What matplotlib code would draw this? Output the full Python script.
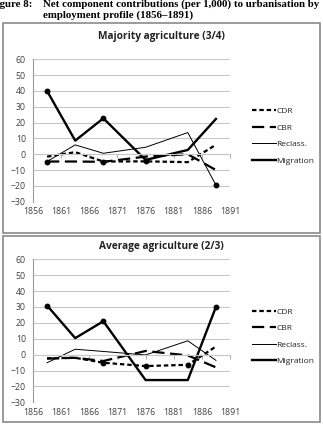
import matplotlib

matplotlib.use("Agg")
import matplotlib.pyplot as plt
from matplotlib.patches import Rectangle

# period midpoints (x positions of the points)
years = [1858.5, 1863.5, 1868.5, 1876, 1883.5, 1888.5]
xticks = [1856, 1861, 1866, 1871, 1876, 1881, 1886, 1891]

# panel 1: majority agriculture (3/4)
maj_cdr = [-1.5, 1.3, -4.6, -4.5, -5, 6]
maj_cbr = [-4.6, -4.6, -4.8, -1.5, 0, -10]
maj_recl = [-4.6, 5.9, 0.6, 4.4, 13.7, -19.5]
maj_mig = [40, 8.6, 22.7, -3.6, 2.7, 22.3]
maj_marks = {"cdr": [3], "cbr": [0, 2], "recl": [5], "mig": [0, 2]}

# panel 2: average agriculture (2/3)
avg_cdr = [-2.3, -2, -5.1, -7.2, -6.4, 5.1]
avg_cbr = [-2.5, -2, -4, 2.3, -0.5, -8]
avg_recl = [-5.1, 3.4, 2, -0.2, 8.7, -3.6]
avg_mig = [30.9, 10.4, 21, -16, -16, 30]
avg_marks = {"cdr": [2, 3, 4], "cbr": [], "recl": [], "mig": [0, 2, 5]}

W, H = 323, 425
fig = plt.figure(figsize=(W / 100, H / 100), dpi=100)
GREY = "#404040"


def fx(px):
    return px / W


def fy(py):
    return 1 - py / H


TSZ = 7.85
fig.text(fx(-10), fy(4.5), "Figure 8:", fontsize=TSZ, fontweight="bold",
         family="Liberation Serif", va="center", ha="left")
fig.text(fx(43), fy(4.5), "Net component contributions (per 1,000) to urbanisation by",
         fontsize=TSZ, fontweight="bold", family="Liberation Serif", va="center")
fig.text(fx(43), fy(15.5), "employment profile (1856\u20131891)",
         fontsize=TSZ, fontweight="bold", family="Liberation Serif", va="center")

styles = {
    "cdr": dict(color="black", lw=1.6, ls=(0, (2.0, 1.3)), label="CDR"),
    "cbr": dict(color="black", lw=1.6, ls=(0, (5.5, 2.5)), label="CBR"),
    "recl": dict(color="black", lw=0.7, ls="-", label="Reclass."),
    "mig": dict(color="black", lw=1.7, ls="-", label="Migration"),
}


def panel(box, ax_rect, title, title_y, series, marks):
    x0, y0, x1, y1 = box
    fig.patches.append(Rectangle((fx(x0), fy(y1)), fx(x1 - x0), (y1 - y0) / H,
                                 transform=fig.transFigure, fill=False,
                                 edgecolor="#8a8a8a", lw=1.2))
    fig.text(fx((x0 + x1) / 2), fy(title_y), title, fontsize=7.3,
             fontweight="bold", family="Open Sans", ha="center", va="center",
             color="#222222")
    l, t, r, b = ax_rect
    ax = fig.add_axes([fx(l), fy(b), fx(r - l), (b - t) / H])
    for key in ["cdr", "cbr", "recl", "mig"]:
        vals = series[key]
        ax.plot(years, vals, **styles[key])
        mx = [years[i] for i in marks[key]]
        my = [vals[i] for i in marks[key]]
        ax.plot(mx, my, "o", color="black", ms=3.2, ls="none")
    ax.set_xlim(1856, 1891)
    ax.set_ylim(-30, 60)
    ax.set_yticks(range(-30, 61, 10))
    ax.set_xticks(xticks)
    ax.grid(axis="y", color="#c8c8c8", lw=0.8)
    ax.set_axisbelow(True)
    for s in ["top", "right"]:
        ax.spines[s].set_visible(False)
    ax.spines["left"].set_color("#9a9a9a")
    ax.spines["bottom"].set_position(("data", 0))
    ax.spines["bottom"].set_color("#c8c8c8")
    ax.tick_params(axis="y", length=0, labelsize=6.3, labelcolor=GREY, pad=5)
    ax.tick_params(axis="x", length=3, direction="out", color="#b0b0b0",
                   labelbottom=False)
    sec = ax.secondary_xaxis("bottom")
    sec.set_xticks(xticks)
    sec.spines["bottom"].set_visible(False)
    sec.tick_params(length=0, labelsize=6.3, labelcolor=GREY, pad=4)
    for lab in ax.get_yticklabels() + sec.get_xticklabels():
        lab.set_family("Open Sans")
    handles, labels = ax.get_legend_handles_labels()
    handles = [h for h, lb in zip(handles, labels) if not lb.startswith("_")]
    labels = [lb for lb in labels if not lb.startswith("_")]
    leg = ax.legend(handles, labels, loc="center left", bbox_to_anchor=(1.09, 0.46),
                    frameon=False, handlelength=2.9, handletextpad=0.05,
                    labelspacing=1.05, borderpad=0,
                    prop={"family": "Open Sans", "size": 6.0})
    for txt in leg.get_texts():
        txt.set_color("#222222")
    return ax


panel((3, 23, 320, 233), (33, 59.3, 230, 201.7), "Majority agriculture (3/4)", 37,
      {"cdr": maj_cdr, "cbr": maj_cbr, "recl": maj_recl, "mig": maj_mig}, maj_marks)
panel((3, 236, 320, 422), (33, 259.3, 230, 402.3), "Average agriculture (2/3)", 246,
      {"cdr": avg_cdr, "cbr": avg_cbr, "recl": avg_recl, "mig": avg_mig}, avg_marks)

fig.savefig("out.png", dpi=100)
